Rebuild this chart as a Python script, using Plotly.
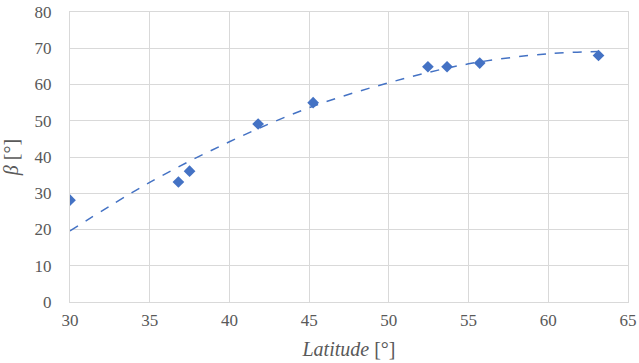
import plotly.graph_objects as go

latitude = [30.0, 36.8, 37.5, 41.8, 45.25, 52.45, 53.65, 55.7, 63.15]
beta = [28.1, 33.1, 36.1, 49.1, 55.0, 64.9, 64.9, 65.9, 68.0]

# Dashed trendline, values
trend_lat = [30, 35, 40, 45, 50, 55, 60, 63.15]
trend_beta = [19.6, 33.0, 44.2, 53.6, 60.5, 65.7, 68.5, 69.1]

x_ticks = [30, 35, 40, 45, 50, 55, 60, 65]
y_ticks = [0, 10, 20, 30, 40, 50, 60, 70, 80]

blue = "#4472C4"
grid = "#d9d9d9"
tick_col = "#595959"
serif = "Times New Roman, Times, serif"

fig = go.Figure()
fig.add_trace(go.Scatter(x=trend_lat, y=trend_beta, mode="lines",
                         line=dict(color=blue, width=1.5, dash="dash", shape="spline", smoothing=1.0),
                         hoverinfo="skip", showlegend=False))
fig.add_trace(go.Scatter(x=latitude, y=beta, mode="markers",
                         marker=dict(symbol="diamond", size=9, color=blue),
                         showlegend=False))

fig.update_layout(
    width=639, height=363,
    margin=dict(l=70, r=11, t=12, b=61),
    paper_bgcolor="white", plot_bgcolor="white",
    font=dict(family=serif, size=17, color=tick_col),
    xaxis=dict(range=[30, 65], tickvals=x_ticks, showgrid=True, gridcolor=grid, gridwidth=1,
               zeroline=False, showline=True, linecolor=grid, mirror=True, ticks="",
               automargin=False, ticklabelstandoff=3,
               tickfont=dict(family=serif, size=17, color=tick_col),
               title=dict(text="<i>Latitude</i> [°]", font=dict(family=serif, size=20, color=tick_col), standoff=12)),
    yaxis=dict(range=[0, 80], tickvals=y_ticks, showgrid=True, gridcolor=grid, gridwidth=1,
               zeroline=False, showline=True, linecolor=grid, mirror=True, ticks="",
               automargin=False, ticklabelstandoff=14,
               tickfont=dict(family=serif, size=17, color=tick_col),
               title=dict(text="<i>β</i> [°]", font=dict(family=serif, size=20, color=tick_col), standoff=14)),
)

fig.write_html("out.html", config={"displayModeBar": False},
               post_script="document.body.style.margin='0';")
